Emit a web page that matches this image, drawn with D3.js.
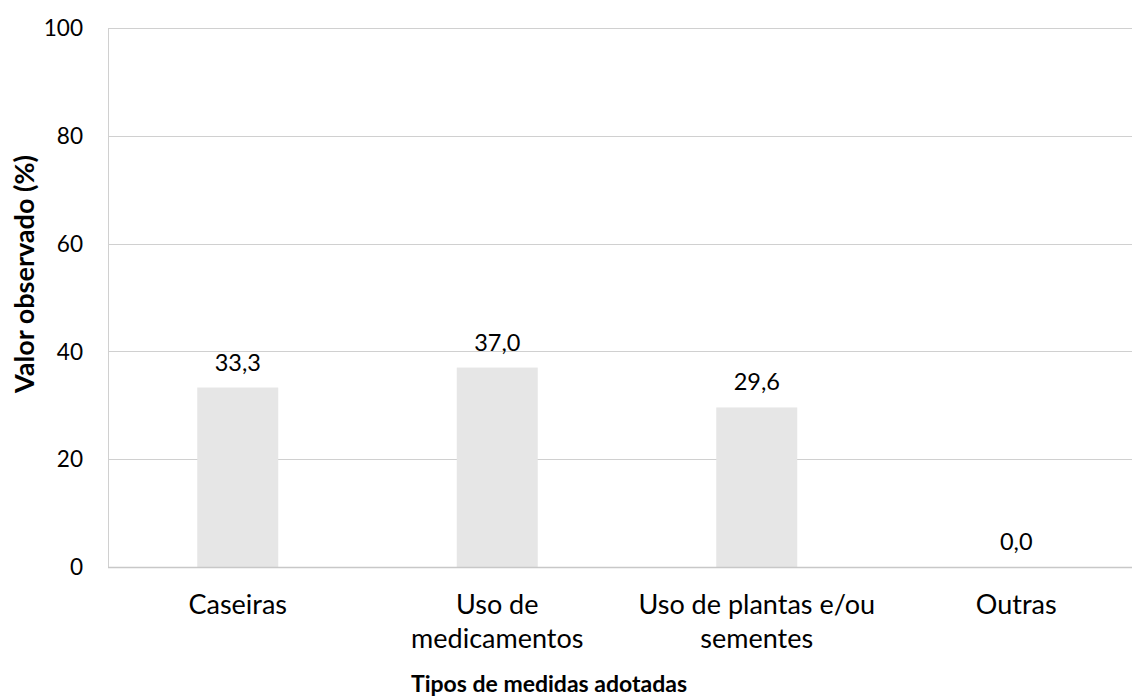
<!DOCTYPE html>
<html><head><meta charset="utf-8">
<script src="https://cdn.jsdelivr.net/npm/d3@7"></script>
<style>body{margin:0;background:#fff;} svg{display:block;} text{font-family:Lato,"Open Sans",sans-serif;}</style>
</head><body>
<script>
const categories = [["Caseiras"], ["Uso de", "medicamentos"], ["Uso de plantas e/ou", "sementes"], ["Outras"]];
const values = [33.3, 37.0, 29.6, 0.0];
const valueLabels = ["33,3", "37,0", "29,6", "0,0"];
const yTicks = [0, 20, 40, 60, 80, 100];
const xTitle = "Tipos de medidas adotadas";
const yTitle = "Valor observado (%)";

const W = 1132, H = 700;
const m = {left: 108, top: 28, bottom: 133};
const svg = d3.select("body").append("svg").attr("width", W).attr("height", H);

const x = d3.scaleBand().domain(d3.range(categories.length)).range([m.left, 1146]).paddingInner(0.688).paddingOuter(0.344);
const y = d3.scaleLinear().domain([0, 100]).range([H - m.bottom, m.top]);

// gridlines
svg.append("g").selectAll("line").data(yTicks).join("line")
  .attr("x1", m.left).attr("x2", W)
  .attr("y1", d => Math.round(y(d)) + 0.5).attr("y2", d => Math.round(y(d)) + 0.5)
  .attr("stroke", "#d0d0d0").attr("stroke-width", 1);
// left axis line
svg.append("line").attr("x1", m.left + 0.5).attr("x2", m.left + 0.5)
  .attr("y1", y(100)).attr("y2", y(0)).attr("stroke", "#d0d0d0");

// y tick labels
svg.append("g").selectAll("text").data(yTicks).join("text")
  .attr("x", 83).attr("y", d => y(d)).attr("dy", "0.36em")
  .attr("text-anchor", "end").attr("font-size", 22.6).attr("fill", "#000")
  .text(d => d);

// bars
svg.append("g").selectAll("rect").data(values).join("rect")
  .attr("x", (d, i) => x(i)).attr("width", x.bandwidth())
  .attr("y", d => y(d)).attr("height", d => y(0) - y(d))
  .attr("fill", "#e6e6e6");
// bottom axis line
svg.append("line").attr("x1", m.left).attr("x2", W)
  .attr("y1", Math.round(y(0)) + 0.5).attr("y2", Math.round(y(0)) + 0.5).attr("stroke", "#c8c8c8").attr("stroke-width", 1.5);

// value labels
svg.append("g").selectAll("text").data(values).join("text")
  .attr("x", (d, i) => x(i) + x.bandwidth() / 2).attr("y", d => y(d) - 17)
  .attr("text-anchor", "middle").attr("font-size", 23.5).attr("fill", "#000")
  .text((d, i) => valueLabels[i]);

// category labels
const cat = svg.append("g").selectAll("text").data(categories).join("text")
  .attr("x", (d, i) => x(i) + x.bandwidth() / 2).attr("y", 614)
  .attr("text-anchor", "middle").attr("font-size", 27).attr("fill", "#000");
cat.selectAll("tspan").data(d => d).join("tspan")
  .attr("x", function() { return d3.select(this.parentNode).attr("x"); })
  .attr("dy", (d, i) => i === 0 ? 0 : 34)
  .text(d => d);

// axis titles
svg.append("text").attr("x", 549).attr("y", 692)
  .attr("text-anchor", "middle").attr("font-size", 23).attr("font-weight", "bold").text(xTitle);
svg.append("text").attr("transform", `translate(34,274) rotate(-90)`)
  .attr("text-anchor", "middle").attr("font-size", 27).attr("font-weight", "bold").text(yTitle);
</script>
</body></html>
